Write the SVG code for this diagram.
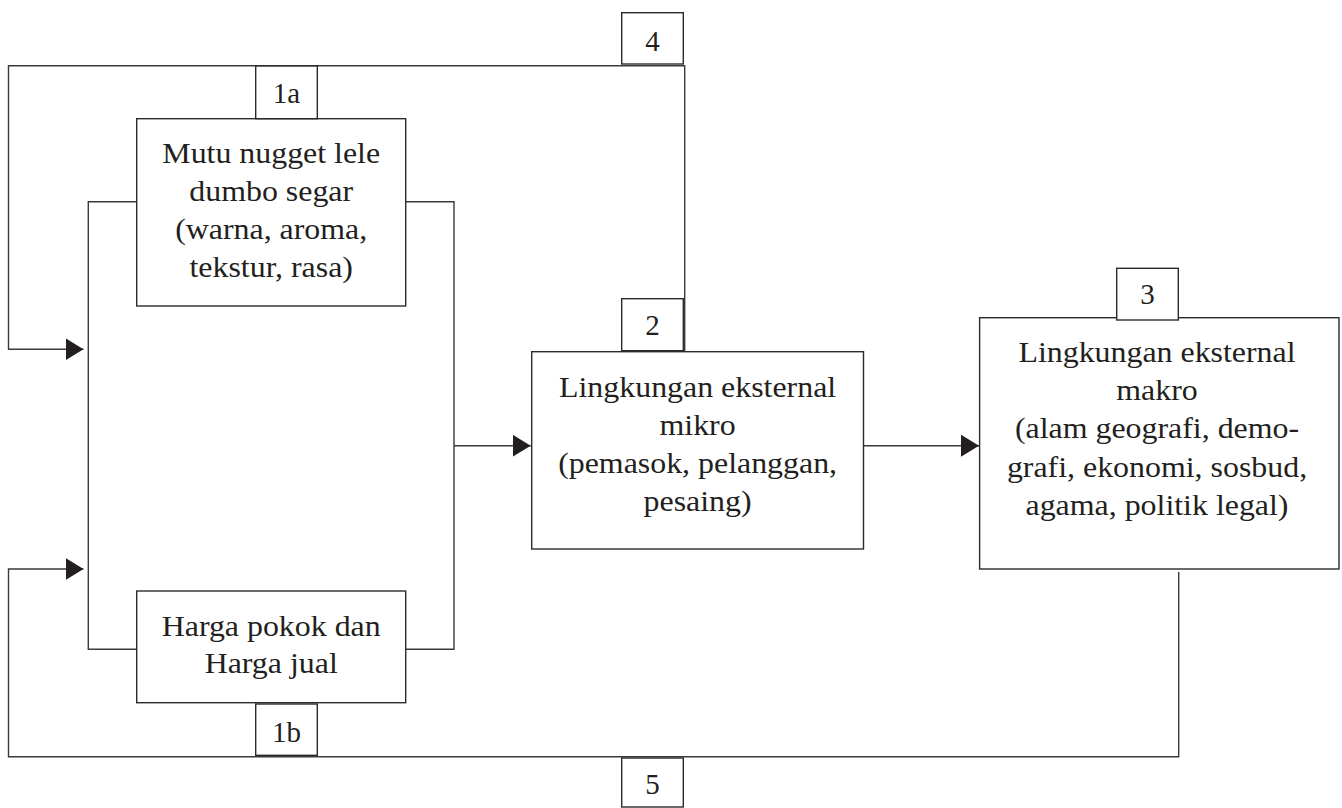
<svg xmlns="http://www.w3.org/2000/svg" width="1342" height="808" viewBox="0 0 1342 808">
  <style>
    .box { fill: #ffffff; stroke: #2b2b2b; stroke-width: 1.4; }
    .wire { fill: none; stroke: #3a3a3a; stroke-width: 1.4; }
    .lbl { font-family: "Liberation Serif", "Times New Roman", serif; font-size: 29px; fill: #231f20; text-anchor: middle; }
  </style>
  <defs>
    <marker id="arrow" viewBox="0 0 18 22" refX="18" refY="11" markerWidth="18" markerHeight="22" markerUnits="userSpaceOnUse" orient="auto">
      <path d="M0,0 L18,11 L0,22 Z" fill="#231f20"/>
    </marker>
  </defs>

  <rect width="1342" height="808" fill="#ffffff"/>

  <!-- connectors -->
  <g id="connectors">
    <!-- loop 4: from node 2 back up over the top and into the inputs -->
    <path class="wire" d="M684.7,351.7 V65.7 H8.5 V349.3 H83.5" marker-end="url(#arrow)"/>
    <!-- loop 5: from node 3 back along the bottom and into the inputs -->
    <path class="wire" d="M1178.7,572 V756.7 H8.5 V569 H83.5" marker-end="url(#arrow)"/>
    <!-- left bracket joining the two inputs -->
    <path class="wire" d="M136.7,201.7 H88.3 V649.3 H136.7"/>
    <!-- right bracket joining the two inputs -->
    <path class="wire" d="M405.7,201.7 H454 V649.3 H405.7"/>
    <!-- inputs to micro environment -->
    <path class="wire" d="M454,445.7 H530.7" marker-end="url(#arrow)"/>
    <!-- micro to macro environment -->
    <path class="wire" d="M863.5,445.7 H979" marker-end="url(#arrow)"/>
  </g>

  <!-- node 1a: product quality -->
  <g id="node-1a">
    <rect class="box" x="136.7" y="118.7" width="269" height="187.3"/>
    <g transform="translate(271.2 0) scale(1.1 1)">
      <text class="lbl" x="0" y="163.5">Mutu nugget lele</text>
      <text class="lbl" x="0" y="201.5">dumbo segar</text>
      <text class="lbl" x="0" y="239.5">(warna, aroma,</text>
      <text class="lbl" x="0" y="277.5">tekstur, rasa)</text>
    </g>
  </g>
  <g id="tag-1a">
    <rect class="box" x="255.7" y="66" width="61.6" height="52.7"/>
    <text class="lbl" x="286.5" y="103.3">1a</text>
  </g>

  <!-- node 1b: pricing -->
  <g id="node-1b">
    <rect class="box" x="136.7" y="591" width="269" height="111.7"/>
    <g transform="translate(271.2 0) scale(1.1 1)">
      <text class="lbl" x="0" y="636">Harga pokok dan</text>
      <text class="lbl" x="0" y="673.5">Harga jual</text>
    </g>
  </g>
  <g id="tag-1b">
    <rect class="box" x="255.7" y="704" width="61.6" height="51.3"/>
    <text class="lbl" x="286.5" y="741.7">1b</text>
  </g>

  <!-- node 2: micro external environment -->
  <g id="node-2">
    <rect class="box" x="531.7" y="351.7" width="331.8" height="197.3"/>
    <g transform="translate(697.6 0) scale(1.1 1)">
      <text class="lbl" x="0" y="396.7">Lingkungan eksternal</text>
      <text class="lbl" x="0" y="435">mikro</text>
      <text class="lbl" x="0" y="473">(pemasok, pelanggan,</text>
      <text class="lbl" x="0" y="511.5">pesaing)</text>
    </g>
  </g>
  <g id="tag-2">
    <rect class="box" x="621.7" y="298.7" width="61.6" height="52"/>
    <text class="lbl" x="652.5" y="335">2</text>
  </g>

  <!-- node 3: macro external environment -->
  <g id="node-3">
    <rect class="box" x="979.6" y="317.7" width="359.4" height="251.3"/>
    <g transform="translate(1157 0) scale(1.1 1)">
      <text class="lbl" x="0" y="361.7">Lingkungan eksternal</text>
      <text class="lbl" x="0" y="400">makro</text>
      <text class="lbl" x="0" y="438.3">(alam geografi, demo-</text>
      <text class="lbl" x="0" y="476.7">grafi, ekonomi, sosbud,</text>
      <text class="lbl" x="0" y="515">agama, politik legal)</text>
    </g>
  </g>
  <g id="tag-3">
    <rect class="box" x="1116.7" y="268.3" width="61.6" height="51.7"/>
    <text class="lbl" x="1147.5" y="304.3">3</text>
  </g>

  <!-- loop labels -->
  <g id="tag-4">
    <rect class="box" x="621.7" y="12.7" width="61.6" height="51.3"/>
    <text class="lbl" x="652.5" y="50.7">4</text>
  </g>
  <g id="tag-5">
    <rect class="box" x="621.7" y="758" width="61.6" height="49"/>
    <text class="lbl" x="652.5" y="794">5</text>
  </g>
</svg>
